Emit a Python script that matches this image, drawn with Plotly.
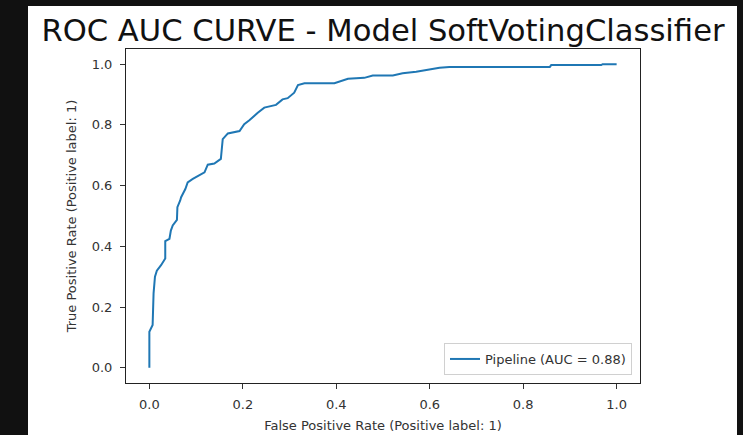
import plotly.graph_objects as go

title_text = "ROC AUC CURVE - Model SoftVotingClassifier"
series_name = "Pipeline (AUC = 0.88)"
x_label = "False Positive Rate (Positive label: 1)"
y_label = "True Positive Rate (Positive label: 1)"
tick_vals = [0.0, 0.2, 0.4, 0.6, 0.8, 1.0]

fpr = [0, 0, 0.007, 0.009, 0.012, 0.016, 0.025, 0.034, 0.034, 0.043,
       0.046, 0.05, 0.059, 0.06, 0.066, 0.068, 0.077, 0.082, 0.093, 0.107,
       0.118, 0.125, 0.139, 0.153, 0.157, 0.168, 0.193, 0.203, 0.214, 0.232,
       0.246, 0.271, 0.285, 0.296, 0.31, 0.318, 0.332, 0.396, 0.41, 0.425,
       0.46, 0.478, 0.521, 0.542, 0.571, 0.592, 0.621, 0.642, 0.857, 0.86,
       0.967, 0.97, 1.0]
tpr = [0, 0.119, 0.141, 0.245, 0.30, 0.32, 0.338, 0.36, 0.417, 0.425,
       0.452, 0.469, 0.487, 0.529, 0.551, 0.562, 0.589, 0.611, 0.622, 0.633,
       0.644, 0.669, 0.673, 0.688, 0.753, 0.772, 0.780, 0.802, 0.815, 0.840,
       0.857, 0.866, 0.884, 0.888, 0.906, 0.931, 0.937, 0.937, 0.944, 0.952,
       0.955, 0.963, 0.963, 0.970, 0.975, 0.981, 0.988, 0.991, 0.991, 0.997,
       0.997, 1.0, 1.0]

W, H = 743, 435
L, R, T, B = 126, 640, 49, 383  # plot area in pixels
pw, ph = R - L, B - T

def px_x(x):
    return (x - L) / pw

def px_y(y):
    return (B - y) / ph

font = "DejaVu Sans, Liberation Sans, sans-serif"

fig = go.Figure()
fig.add_trace(go.Scatter(x=fpr, y=tpr, mode="lines", name=series_name,
                         line=dict(color="#1f77b4", width=2),
                         showlegend=True))

axis_common = dict(
    showgrid=False, zeroline=False, showline=True, linecolor="#222222",
    linewidth=1, mirror=True, ticks="outside", ticklen=5, tickwidth=1,
    tickcolor="#333333", tickvals=tick_vals, tickformat=".1f",
    tickfont=dict(family=font, size=13, color="#333333"),
    range=[-0.05, 1.05], automargin=False,
)

fig.update_layout(
    width=W, height=H,
    margin=dict(l=L, r=W - R, t=T, b=H - B, autoexpand=False),
    paper_bgcolor="#111111",
    plot_bgcolor="white",
    title=dict(text=title_text, x=(L + R) / 2 / W, xanchor="center",
               y=1 - 30 / H, yanchor="middle", yref="container",
               font=dict(family=font, size=30.6, color="#111111")),
    xaxis=dict(**axis_common, ticklabelstandoff=4,
               title=dict(text=x_label, standoff=10,
                          font=dict(family=font, size=13, color="#333333"))),
    yaxis=dict(**axis_common, ticklabelstandoff=5,
               title=dict(text=y_label, standoff=12,
                          font=dict(family=font, size=13, color="#333333"))),
    legend=dict(x=px_x(632), y=px_y(375), xanchor="right", yanchor="bottom",
                bgcolor="white", bordercolor="#d0d0d0", borderwidth=1,
                font=dict(family=font, size=13, color="#333333")),
    shapes=[dict(type="rect", xref="paper", yref="paper",
                 x0=px_x(28), x1=px_x(737), y0=px_y(436), y1=px_y(6),
                 fillcolor="white", line=dict(width=0), layer="below")],
)

fig.write_html("out.html")
